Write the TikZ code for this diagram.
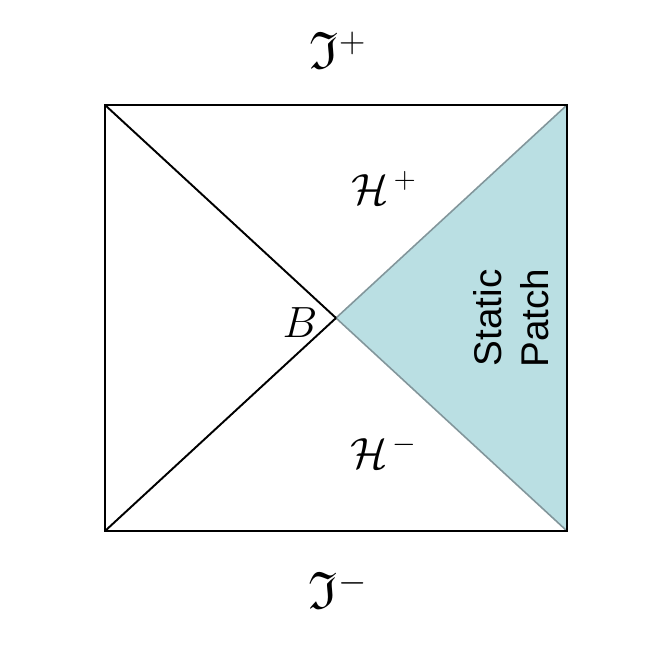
\documentclass[tikz,border=0pt]{standalone}
\usepackage{amssymb}
\usepackage{fontspec}
\newfontfamily\arialfont{Liberation Sans}
\begin{document}
\begin{tikzpicture}[x=0.02cm,y=-0.02cm,
  edge/.style={line width=1.1pt,black},
  lbl/.style={inner sep=0pt}]
\useasboundingbox (0,0) rectangle (650,662);
\fill[white] (0,0) rectangle (650,662);
\coordinate (tl) at (105,105);
\coordinate (tr) at (567,105);
\coordinate (br) at (567,531);
\coordinate (bl) at (105,531);
\coordinate (b) at (336,318);
\fill[fill={rgb,255:red,186;green,223;blue,227}] (b) -- (tr) -- (br) -- cycle;
\draw[line width=0.9pt,color={rgb,255:red,130;green,150;blue,155}] (b) -- (tr) (b) -- (br);
\draw[edge] (tl) -- (tr) -- (br) -- (bl) -- cycle;
\draw[edge] (tl) -- (b) (bl) -- (b);
\node[lbl] (scrip) at (338,50) {\fontsize{30}{32}\selectfont$\mathfrak{I}^{+}$};
\node[lbl] (scrim) at (338,590) {\fontsize{30}{32}\selectfont$\mathfrak{I}^{-}$};
\node[lbl] (hp) at (384,188) {\fontsize{24}{26}\selectfont$\mathcal{H}^{\,+}$};
\node[lbl] (hm) at (384,452) {\fontsize{24}{26}\selectfont$\mathcal{H}^{\,-}$};
\node[lbl] (bl1) at (300,323) {\fontsize{26}{28}\selectfont$B$};
\node[lbl,rotate=90,align=center,font={\arialfont\fontsize{22}{27}\selectfont}] (sp) at (511,318) {Static\\Patch};
\end{tikzpicture}
\end{document}
